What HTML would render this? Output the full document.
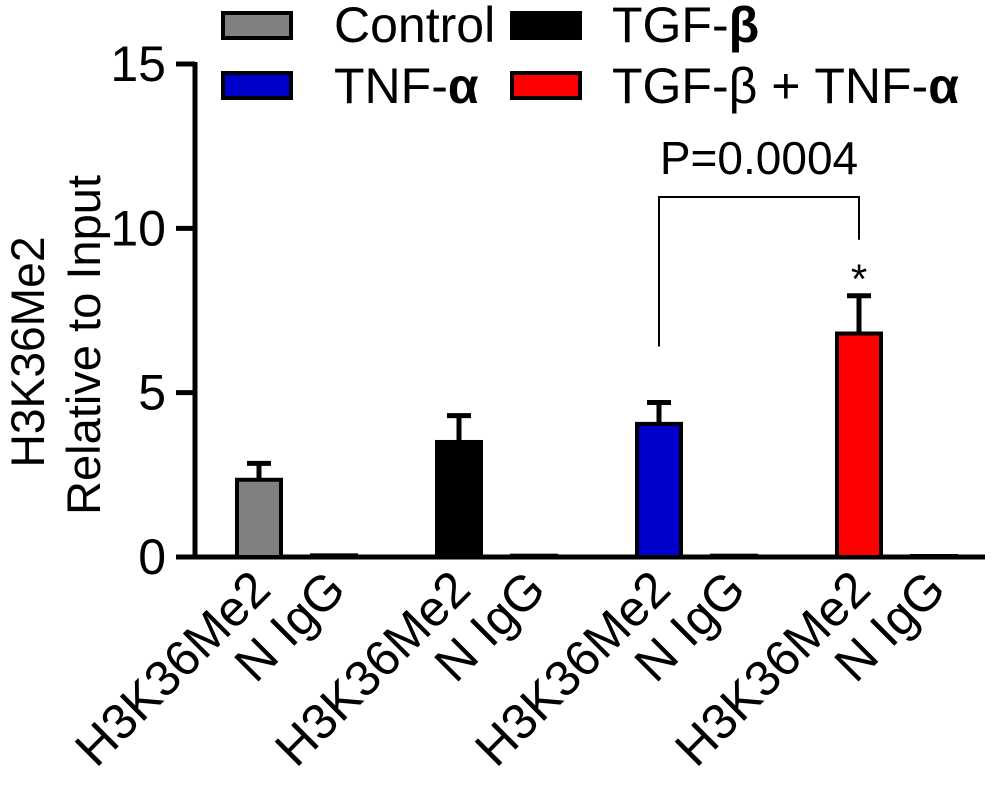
<!DOCTYPE html>
<html><head><meta charset="utf-8"><style>
body{margin:0;background:#fff}
svg text{font-family:"Liberation Sans",Arial,sans-serif;fill:#000}
</style></head><body>
<svg id="c" width="1007" height="797">
<g id="legend">
<rect x="223" y="13" width="68" height="25" fill="#808080" stroke="#000" stroke-width="4"/>
<text x="334" y="42" font-size="50">Control</text>
<rect x="512" y="13" width="68" height="25" fill="#000" stroke="#000" stroke-width="4"/>
<text x="612" y="42" font-size="50">TGF-<tspan font-weight="bold">β</tspan></text>
<rect x="223" y="73" width="68" height="25" fill="#0000cc" stroke="#000" stroke-width="4"/>
<text x="334" y="103" font-size="50">TNF-<tspan font-weight="bold">α</tspan></text>
<rect x="512" y="73" width="68" height="25" fill="#ff0000" stroke="#000" stroke-width="4"/>
<text x="612" y="103" font-size="50">TGF-β + TNF-<tspan font-weight="bold">α</tspan></text>
</g>
<text transform="translate(44,352) rotate(-90)" text-anchor="middle" font-size="47" textLength="231" lengthAdjust="spacingAndGlyphs">H3K36Me2</text>
<text transform="translate(100,345) rotate(-90)" text-anchor="middle" font-size="47" textLength="340" lengthAdjust="spacingAndGlyphs">Relative to Input</text>
<g id="plot"></g>
</svg>
<script>
const categories=["H3K36Me2","N IgG","H3K36Me2","N IgG","H3K36Me2","N IgG","H3K36Me2","N IgG"];
const values=[2.35,0.05,3.5,0.04,4.05,0.04,6.8,0.03];
const errors=[0.5,0,0.8,0,0.65,0,1.15,0];
const colors=["#808080","#808080","#000","#000","#0000cc","#0000cc","#ff0000","#ff0000"];
const yTicks=[0,5,10,15];
const pText="P=0.0004";
const NS="http://www.w3.org/2000/svg";
const g=document.getElementById('plot');
const y0=557,yTop=64,yMax=15;
function y(v){return y0-(y0-yTop)*v/yMax;}
function x(i){return 259+Math.floor(i/2)*200+(i%2)*75;}
function mk(t,a,p){const e=document.createElementNS(NS,t);for(const k in a)e.setAttribute(k,a[k]);(p||g).appendChild(e);return e;}
let ax=mk('line',{x1:195,y1:y(15)-2,x2:195,y2:y0+2.5,stroke:'#000','stroke-width':5});


let xa=mk('line',{x1:176,y1:y0,x2:985,y2:y0,stroke:'#000','stroke-width':5});


yTicks.forEach(t=>{
 let l=mk('line',{x1:176,y1:y(t),x2:195,y2:y(t),stroke:'#000','stroke-width':5});
 
 
 let tx=mk('text',{x:166,y:y(t)+17,'text-anchor':'end','font-size':50});
 tx.textContent=t;
 
 
});
values.forEach((v,i)=>{
 const cx=x(i),w=48;
 const top=y(v);
 if(errors[i]>0){
  let e=mk('path',{d:`M${cx},${top} V${y(v+errors[i])} M${cx-12},${y(v+errors[i])} H${cx+12}`,stroke:'#000','stroke-width':5,fill:'none'});
  
  
 }
 let r=mk('rect',{x:cx-w/2+2,y:top,width:w-4,height:Math.max(y0-top,0.5),fill:colors[i],stroke:'#000','stroke-width':4});
 
 
 let t=mk('text',{transform:`translate(${cx+14},592) rotate(-45)`,'text-anchor':'end','font-size':50});
 t.textContent=categories[i];
 
 
});
const bx1=x(4),bx2=x(6),by=197;
let b=mk('path',{d:`M${bx1},${y(values[4]+errors[4])-56} V${by} H${bx2} V${y(values[6]+errors[6])-56}`,stroke:'#000','stroke-width':2,fill:'none'});


let pt=mk('text',{x:(bx1+bx2)/2,y:174,'text-anchor':'middle','font-size':46});
pt.textContent=pText;


let st=mk('text',{x:bx2,y:y(values[6]+errors[6])-2,'text-anchor':'middle','font-size':42});
st.textContent='*';


</script>
</body></html>
